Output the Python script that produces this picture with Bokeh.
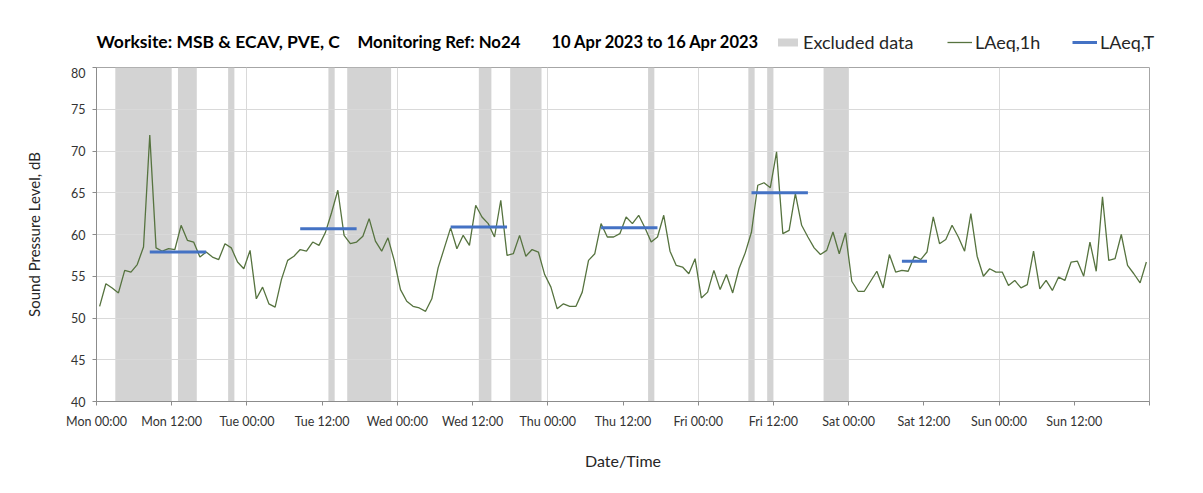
from bokeh.plotting import figure
from bokeh.models import (FixedTicker, Legend, LegendItem, Range1d, ColumnDataSource, Label)
from bokeh.embed import file_html
from bokeh.resources import INLINE

# ---------------- data ----------------
# hourly LAeq,1h values, Mon 10 Apr 2023 00:00 -> Sun 16 Apr 2023 23:00 (plotted at mid-hour)
laeq_1h = [
    51.4, 54.1, 53.6, 53.0, 55.7, 55.5, 56.4, 58.5, 71.9, 58.4,
    58.0, 58.3, 58.2, 61.1, 59.3, 59.1, 57.3, 57.9, 57.3, 57.0,
    58.9, 58.4, 56.7, 55.9, 58.1, 52.3, 53.7, 51.7, 51.3, 54.6,
    56.9, 57.4, 58.2, 58.0,
    59.1, 58.7, 60.2, 62.6, 65.3, 59.9, 58.9, 59.1, 59.8, 61.9,
    59.2, 58.0, 59.6, 56.9, 53.4, 52.0, 51.4, 51.2, 50.8, 52.3,
    56.0, 58.4, 60.8, 58.3, 59.9, 58.7, 63.5, 62.1, 61.3, 59.7,
    64.1, 57.5, 57.7,
    59.9, 57.4, 58.2, 57.9, 55.2, 53.7, 51.1, 51.7, 51.4, 51.4,
    53.1, 56.9, 57.7, 61.3, 59.7, 59.7, 60.1, 62.1, 61.3, 62.3,
    60.8, 59.1, 59.7, 62.3, 58.0, 56.3, 56.1, 55.3, 57.1, 52.4,
    53.1, 55.7, 53.4,
    55.2, 53.0, 55.9, 57.8, 60.3, 65.9, 66.2, 65.6, 69.9, 60.1,
    60.5, 64.9, 61.1, 59.7, 58.4, 57.6, 58.1, 60.3, 57.7, 60.2,
    54.4, 53.2, 53.2, 54.4, 55.6, 53.6, 57.6, 55.5, 55.7, 55.6,
    57.4, 57.0, 57.9,
    62.1, 58.9, 59.4, 61.1, 59.7, 58.0, 62.5, 57.4, 55.0, 55.9,
    55.5, 55.5, 53.9, 54.5, 53.6, 54.0, 58.0, 53.5, 54.5, 53.3,
    54.9, 54.5, 56.7, 56.8, 55.0, 59.1, 55.6, 64.5, 56.9, 57.1,
    60.0, 56.3, 55.3, 54.2, 56.7,
]
hours = [h + 0.5 for h in range(len(laeq_1h))]  # hours since Mon 00:00

# excluded-data periods (hours since Mon 00:00)
excluded_start = [3, 13, 21, 37, 40, 61, 66, 88, 104, 107, 116]
excluded_end = [12, 16, 22, 38, 47, 63, 71, 89, 105, 108, 120]

# LAeq,T daytime periods (hours since Mon 00:00) and values
laeqT_start = [8.5, 32.5, 56.5, 80.5, 104.5, 128.5]
laeqT_end = [17.5, 41.5, 65.5, 89.5, 113.5, 132.5]
laeqT_value = [57.9, 60.7, 60.9, 60.8, 65.0, 56.8]

tick_hours = [0, 12, 24, 36, 48, 60, 72, 84, 96, 108, 120, 132, 144, 156, 168]
tick_labels = ["Mon 00:00", "Mon 12:00", "Tue 00:00", "Tue 12:00", "Wed 00:00",
               "Wed 12:00", "Thu 00:00", "Thu 12:00", "Fri 00:00", "Fri 12:00",
               "Sat 00:00", "Sat 12:00", "Sun 00:00", "Sun 12:00", ""]
grid_hours = [24, 48, 72, 96, 120, 144]
y_ticks = [40, 45, 50, 55, 60, 65, 70, 75, 80]

title_parts = ["Worksite: MSB & ECAV, PVE, C", "Monitoring Ref: No24",
               "10 Apr 2023 to 16 Apr 2023"]
legend_labels = ["Excluded data", "LAeq,1h", "LAeq,T"]

FONT = "Lato"
W = 1195
HEAD_H = 67
MAIN_H = 417

BAND_STYLE = dict(fill_color="#d3d3d3", line_color=None)
LINE_STYLE = dict(line_color="#56733f", line_width=1.3)
SEG_STYLE = dict(line_color="#4472c4", line_width=3)

bands_src = ColumnDataSource(dict(left=excluded_start, right=excluded_end,
                                  bottom=[40] * len(excluded_start),
                                  top=[80] * len(excluded_start)))

# ---------------- header (title + legend) ----------------
head = figure(width=W, height=HEAD_H, output_backend="svg", toolbar_location=None,
              x_range=Range1d(0, W), y_range=Range1d(HEAD_H, 0),
              x_axis_location=None, y_axis_location=None, title=None,
              min_border_left=0, min_border_right=0, min_border_top=0,
              min_border_bottom=0)
head.outline_line_color = None
head.xgrid.visible = False
head.ygrid.visible = False
head.background_fill_color = "white"
head.border_fill_color = "white"

for txt, xx, fs in zip(title_parts, [96, 357, 551], ["17.5px", "16.8px", "16.5px"]):
    head.add_layout(Label(x=xx, y=41, text=txt, text_font=FONT,
                          text_font_size=fs, text_font_style="bold",
                          text_color="black", text_baseline="middle"))

# hidden copies of the series: they only supply the legend keys
h_band = head.quad(left="left", right="right", bottom="bottom", top="top",
                   source=bands_src, visible=False, **BAND_STYLE)
h_line = head.line(hours, laeq_1h, visible=False, **LINE_STYLE)
h_seg = head.segment(x0=laeqT_start, x1=laeqT_end, y0=laeqT_value, y1=laeqT_value,
                     visible=False, **SEG_STYLE)

for lab, rend, xx in zip(legend_labels, [h_band, h_line, h_seg], [775, 947, 1072]):
    head.add_layout(Legend(items=[LegendItem(label=lab, renderers=[rend])],
                           location=(xx, HEAD_H - 53),
                           border_line_color=None, background_fill_alpha=0,
                           padding=0, margin=0, label_standoff=3,
                           glyph_width=25, glyph_height=10, label_height=10,
                           label_text_font=FONT, label_text_font_size="18px",
                           label_text_color="#262626"))

# ---------------- main chart ----------------
p = figure(width=W, height=MAIN_H, output_backend="svg", toolbar_location=None,
           x_range=Range1d(0, 168), y_range=Range1d(40, 80), title=None,
           min_border_left=96, min_border_right=46, min_border_top=0,
           min_border_bottom=83)
p.background_fill_color = "white"
p.border_fill_color = "white"
p.outline_line_color = "#a6a6a6"
p.outline_line_width = 1

bands = p.quad(left="left", right="right", bottom="bottom", top="top",
               source=bands_src, level="image", **BAND_STYLE)
line = p.line(hours, laeq_1h, **LINE_STYLE)
seg = p.segment(x0=laeqT_start, x1=laeqT_end, y0=laeqT_value, y1=laeqT_value,
                **SEG_STYLE)

p.ygrid.ticker = FixedTicker(ticks=y_ticks)
p.ygrid.grid_line_color = "#d9d9d9"
p.xgrid.ticker = FixedTicker(ticks=grid_hours)
p.xgrid.grid_line_color = "#d9d9d9"

xa = p.xaxis[0]
xa.ticker = FixedTicker(ticks=tick_hours)
xa.major_label_overrides = {h: lab for h, lab in zip(tick_hours, tick_labels)}
xa.minor_tick_line_color = None
xa.major_tick_out = 4
xa.major_tick_in = 0
xa.axis_line_color = "#8c8c8c"
xa.major_tick_line_color = "#8c8c8c"
xa.major_label_text_font = FONT
xa.major_label_text_font_size = "12.5px"
xa.major_label_text_color = "#333333"
xa.major_label_standoff = 8
xa.axis_label = "Date/Time"
xa.axis_label_text_font = FONT
xa.axis_label_text_font_size = "16px"
xa.axis_label_text_font_style = "normal"
xa.axis_label_text_color = "#262626"
xa.axis_label_standoff = 19

ya = p.yaxis[0]
ya.ticker = FixedTicker(ticks=y_ticks)
ya.minor_tick_line_color = None
ya.major_tick_out = 4
ya.major_tick_in = 0
ya.axis_line_color = "#8c8c8c"
ya.major_tick_line_color = "#8c8c8c"
ya.major_label_text_font = FONT
ya.major_label_text_font_size = "12.5px"
ya.major_label_text_color = "#333333"
ya.major_label_standoff = 7
ya.axis_label = "Sound Pressure Level, dB"
ya.axis_label_text_font = FONT
ya.axis_label_text_font_size = "15px"
ya.axis_label_text_font_style = "normal"
ya.axis_label_text_color = "#262626"
ya.axis_label_standoff = 25

open("out.html", "w").write(file_html([head, p], INLINE))
